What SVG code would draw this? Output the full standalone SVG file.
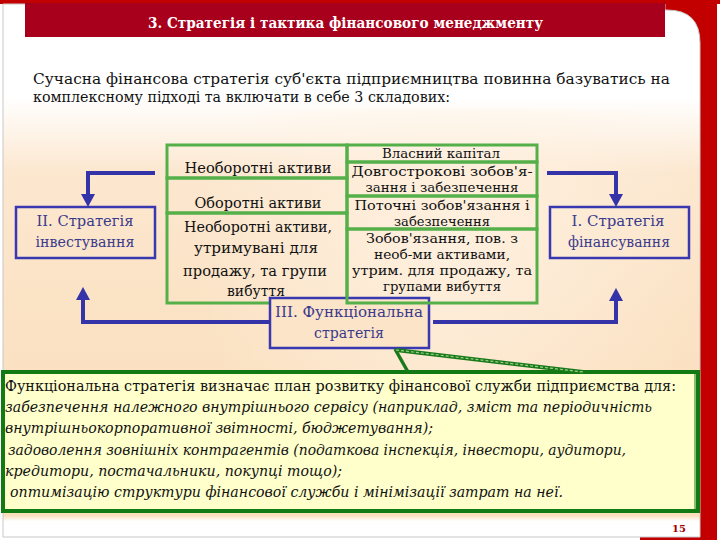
<svg xmlns="http://www.w3.org/2000/svg" width="720" height="540" viewBox="0 0 720 540">
<defs>
<linearGradient id="bg" x1="0" y1="0" x2="0" y2="540" gradientUnits="userSpaceOnUse">
<stop offset="0" stop-color="#ffffff"/>
<stop offset="0.18" stop-color="#ffffff"/>
<stop offset="0.32" stop-color="#fce7cf"/>
<stop offset="0.6" stop-color="#fbe2c4"/>
<stop offset="0.955" stop-color="#fbdfbd"/>
<stop offset="0.965" stop-color="#ffffff"/>
<stop offset="1" stop-color="#ffffff"/>
</linearGradient>
<radialGradient id="glow" cx="450" cy="240" r="260" gradientUnits="userSpaceOnUse">
<stop offset="0" stop-color="#fff3e4" stop-opacity="0.8"/>
<stop offset="1" stop-color="#fff3e4" stop-opacity="0"/>
</radialGradient>
<marker id="arr" markerUnits="userSpaceOnUse" markerWidth="14" markerHeight="14" refX="4" refY="7" orient="auto">
<path d="M0,0 L13,7 L0,14 Z" fill="#3434a8"/>
</marker>
<style>
text{font-family:'DejaVu Serif','Liberation Serif',serif;}
.cell{fill:none;stroke:#55b04a;stroke-width:3;}
.ctext{font-size:15px;fill:#111;text-anchor:middle;}
.rtext{font-size:13.5px;fill:#111;text-anchor:middle;}
.sbox{fill:none;stroke:#3838b0;stroke-width:2.5;}
.stext{font-size:15px;fill:#3a3a8c;text-anchor:middle;}
.conn{fill:none;stroke:#3434a8;stroke-width:4;marker-end:url(#arr);}
.body{font-size:15px;fill:#111;}
.it{font-style:italic;}
</style>
</defs>

<!-- frame -->
<rect x="0" y="0" width="720" height="540" fill="#ffffff"/>
<rect x="0" y="0" width="720" height="4" fill="#c20000"/>
<rect x="640" y="0" width="77" height="540" fill="#c20000"/>
<path d="M3,4 H665 V10 H667 Q700,10 700,43 V537 H3 Z" fill="url(#bg)" stroke="#c8c8c8" stroke-width="1"/>
<path d="M3,110 H700 V518 H3 Z" fill="url(#glow)"/>

<!-- title -->
<g id="title">
<rect x="25" y="3" width="640" height="34" fill="#a8001c"/>
<text x="345.5" y="28" font-size="14" font-weight="bold" fill="#ffffff" text-anchor="middle" textLength="395" lengthAdjust="spacingAndGlyphs">3. Стратегія і тактика фінансового менеджменту</text>
</g>

<g id="intro">
<text x="33" y="84" class="body" textLength="637" lengthAdjust="spacingAndGlyphs">Сучасна фінансова стратегія суб'єкта підприємництва повинна базуватись на</text>
<text x="33" y="102" class="body" textLength="417" lengthAdjust="spacingAndGlyphs">комплексному підході та включати в себе 3 складових:</text>
</g>

<!-- left table (assets) -->
<g id="assets">
<rect class="cell" x="167" y="145" width="180" height="33"/>
<rect class="cell" x="167" y="178" width="180" height="35"/>
<rect class="cell" x="167" y="213" width="180" height="90"/>
<text class="ctext" x="258" y="173" textLength="147" lengthAdjust="spacingAndGlyphs">Необоротні активи</text>
<text class="ctext" x="258" y="208" textLength="127" lengthAdjust="spacingAndGlyphs">Оборотні активи</text>
<text class="ctext" x="258" y="232" textLength="148" lengthAdjust="spacingAndGlyphs">Необоротні активи,</text>
<text class="ctext" x="256" y="253" textLength="124" lengthAdjust="spacingAndGlyphs">утримувані для</text>
<text class="ctext" x="255" y="276" textLength="144" lengthAdjust="spacingAndGlyphs">продажу, та групи</text>
<text class="ctext" x="256" y="296" textLength="58" lengthAdjust="spacingAndGlyphs">вибуття</text>
</g>

<!-- III box -->
<g id="functional">
<rect x="270" y="298" width="159" height="50" fill="#fce4c8" stroke="#3838b0" stroke-width="2.5"/>
<text class="stext" x="349" y="317" fill="#2e2e7c" textLength="148" lengthAdjust="spacingAndGlyphs">III. Функціональна</text>
<text class="stext" x="349" y="338" fill="#2e2e7c" textLength="70" lengthAdjust="spacingAndGlyphs">стратегія</text>
</g>

<!-- right table (liabilities) -->
<g id="liabilities">
<rect class="cell" x="347" y="145" width="190" height="17"/>
<rect class="cell" x="347" y="162" width="190" height="34"/>
<rect class="cell" x="347" y="196" width="190" height="33"/>
<rect class="cell" x="347" y="229" width="190" height="74"/>
<text class="rtext" x="441" y="158" textLength="118" lengthAdjust="spacingAndGlyphs">Власний капітал</text>
<text class="rtext" x="442" y="176" textLength="181" lengthAdjust="spacingAndGlyphs">Довгострокові зобов'я-</text>
<text class="rtext" x="442" y="192" textLength="153" lengthAdjust="spacingAndGlyphs">зання і забезпечення</text>
<text class="rtext" x="442" y="210" textLength="175" lengthAdjust="spacingAndGlyphs">Поточні зобов'язання і</text>
<text class="rtext" x="442" y="226" textLength="96" lengthAdjust="spacingAndGlyphs">забезпечення</text>
<text class="rtext" x="442" y="243" textLength="152" lengthAdjust="spacingAndGlyphs">Зобов'язання, пов. з</text>
<text class="rtext" x="442" y="259" textLength="136" lengthAdjust="spacingAndGlyphs">необ-ми активами,</text>
<text class="rtext" x="442" y="275" textLength="180" lengthAdjust="spacingAndGlyphs">утрим. для продажу, та</text>
<text class="rtext" x="442" y="291" textLength="118" lengthAdjust="spacingAndGlyphs">групами вибуття</text>
</g>

<!-- II box -->
<g id="investment">
<rect class="sbox" x="16" y="207" width="139" height="51"/>
<text class="stext" x="85" y="226" textLength="97" lengthAdjust="spacingAndGlyphs">II. Стратегія</text>
<text class="stext" x="85" y="247" textLength="99" lengthAdjust="spacingAndGlyphs">інвестування</text>
</g>

<!-- I box -->
<g id="financing">
<rect class="sbox" x="550" y="207" width="139" height="51"/>
<text class="stext" x="618" y="226" textLength="93" lengthAdjust="spacingAndGlyphs">I. Стратегія</text>
<text class="stext" x="619" y="247" textLength="102" lengthAdjust="spacingAndGlyphs">фінансування</text>
</g>

<!-- connectors -->
<g id="connectors">
<path class="conn" d="M155,173 H88 V198"/>
<path class="conn" d="M270,322 H83 V296"/>
<path class="conn" d="M547,173 H616 V198"/>
<path class="conn" d="M433,322 H616 V297"/>
</g>

<!-- callout -->
<g id="callout">
<rect x="3" y="372" width="695" height="139" fill="#ffffcc" stroke="#127a12" stroke-width="4"/>
<line x1="695" y1="373" x2="695" y2="510" stroke="#127a12" stroke-width="1"/>
<path d="M395,349 L408,372" fill="none" stroke="#1a7a1a" stroke-width="3.5"/>
<path d="M396,350 L583,372" fill="none" stroke="#1a7a1a" stroke-width="4"/>
<path d="M396,350 L583,372" fill="none" stroke="#9ccf8c" stroke-width="1.2" stroke-dasharray="3 2"/>
<text class="body" x="5" y="391" textLength="671" lengthAdjust="spacingAndGlyphs">Функціональна стратегія визначає план розвитку фінансової служби підприємства для:</text>
<text class="body it" x="5" y="412" textLength="647" lengthAdjust="spacingAndGlyphs">забезпечення належного внутрішнього сервісу (наприклад, зміст та періодичність</text>
<text class="body it" x="5" y="433" textLength="428" lengthAdjust="spacingAndGlyphs">внутрішньокорпоративної звітності, бюджетування);</text>
<text class="body it" x="8" y="455" textLength="618" lengthAdjust="spacingAndGlyphs">задоволення зовнішніх контрагентів (податкова інспекція, інвестори, аудитори,</text>
<text class="body it" x="5" y="476" textLength="337" lengthAdjust="spacingAndGlyphs">кредитори, постачальники, покупці тощо);</text>
<text class="body it" x="10" y="497" textLength="553" lengthAdjust="spacingAndGlyphs">оптимізацію структури фінансової служби і мінімізації затрат  на неї.</text>
</g>

<text x="679" y="532" font-family="'Liberation Sans', Arial, sans-serif" font-size="10" font-weight="bold" fill="#a00000" text-anchor="middle">15</text>
</svg>
